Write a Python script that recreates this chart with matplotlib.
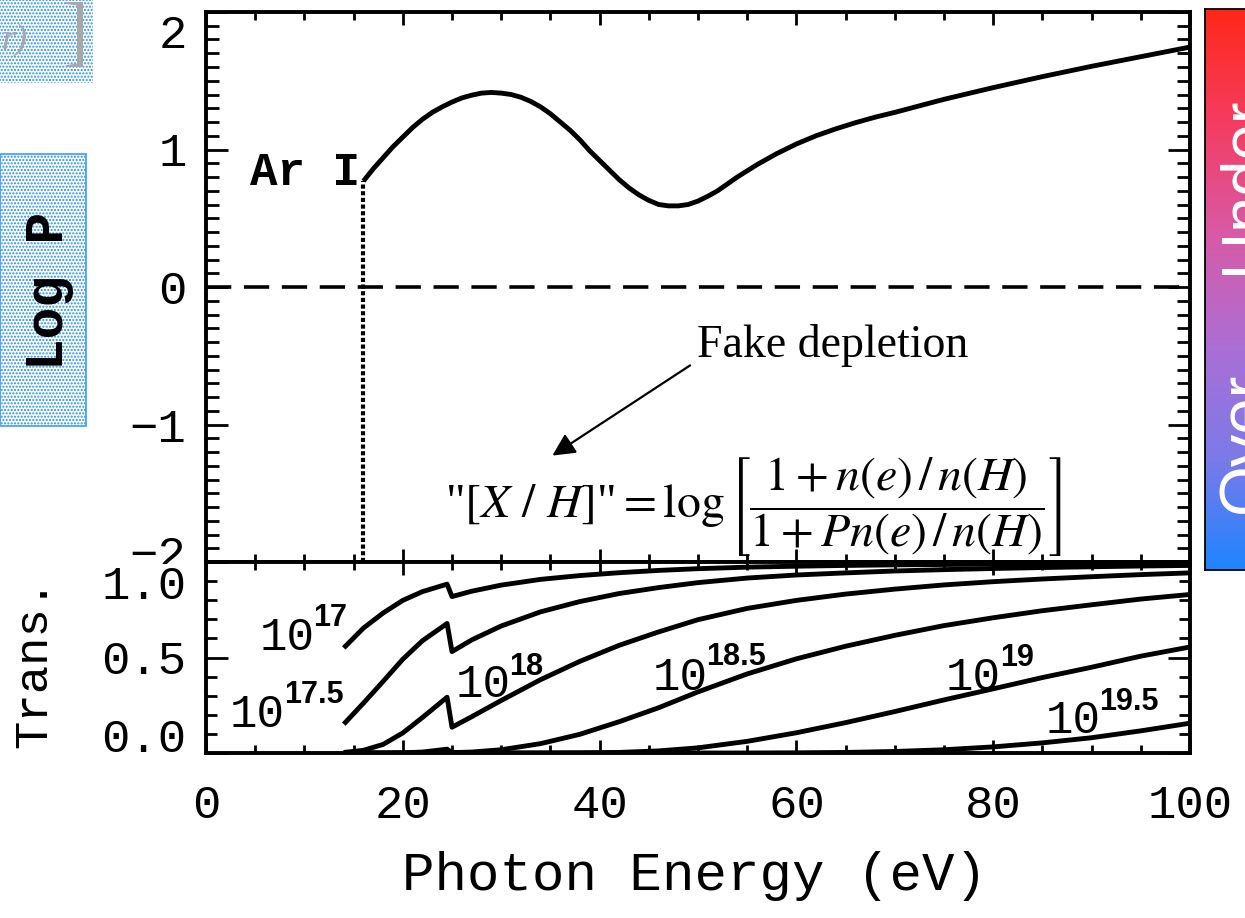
import numpy as np
import matplotlib
matplotlib.use("Agg")
import matplotlib.pyplot as plt
from matplotlib.ticker import MultipleLocator, FixedLocator, FormatStrFormatter
from matplotlib.transforms import ScaledTranslation, Bbox
from matplotlib.patches import Rectangle
from matplotlib.colors import LinearSegmentedColormap

# ---------------- data ----------------
# Top panel: Log P for Ar I versus photon energy (eV)
logp_energy = [16.0, 17, 18, 19, 20, 21, 22, 23, 24, 25, 26, 27, 28, 29, 30, 31, 32, 33, 34,
               35, 36, 37, 38, 39, 40, 41, 42, 43, 44, 45, 46, 47, 48, 49, 50, 51, 52, 54,
               56, 58, 60, 62, 64, 66, 68, 70, 75, 80, 85, 90, 95, 100]
logp_value = [0.77, 0.86, 0.94, 1.02, 1.09, 1.16, 1.22, 1.27, 1.31, 1.345, 1.375, 1.395, 1.41,
              1.415, 1.41, 1.40, 1.38, 1.35, 1.31, 1.26, 1.20, 1.14, 1.07, 0.99, 0.92, 0.85,
              0.78, 0.72, 0.67, 0.63, 0.60, 0.59, 0.59, 0.60, 0.625, 0.66, 0.70, 0.80, 0.89,
              0.97, 1.04, 1.10, 1.15, 1.195, 1.235, 1.27, 1.365, 1.45, 1.53, 1.605, 1.675,
              1.745]
ar_edge = 16.0
ar_edge_logp = 0.77

# Bottom panel: transmission for several H I column densities
trans_energy = [14, 16, 18, 20, 22, 24.5, 25.0, 27, 30, 34, 38, 42, 46, 50, 55, 60, 65, 70,
                75, 80, 85, 90, 95, 100]
trans_17 = [0.550, 0.654, 0.733, 0.799, 0.845, 0.884, 0.819, 0.847, 0.879, 0.909, 0.929,
            0.944, 0.956, 0.965, 0.973, 0.978, 0.982, 0.985, 0.987, 0.989, 0.991, 0.992,
            0.993, 0.994]
trans_17_5 = [0.151, 0.261, 0.375, 0.491, 0.588, 0.678, 0.531, 0.592, 0.665, 0.739, 0.793,
              0.835, 0.866, 0.892, 0.916, 0.932, 0.943, 0.953, 0.960, 0.966, 0.971, 0.975,
              0.979, 0.982]
trans_18 = [0.003, 0.014, 0.045, 0.105, 0.186, 0.292, 0.135, 0.190, 0.275, 0.384, 0.480,
            0.564, 0.634, 0.698, 0.757, 0.799, 0.832, 0.858, 0.880, 0.897, 0.911, 0.923,
            0.934, 0.943]
trans_18_5 = [0.0, 0.0, 0.0, 0.001, 0.005, 0.020, 0.002, 0.005, 0.017, 0.049, 0.098, 0.164,
              0.237, 0.320, 0.414, 0.493, 0.559, 0.616, 0.667, 0.708, 0.745, 0.776, 0.806,
              0.830]
trans_19 = [0.0, 0.0, 0.0, 0.0, 0.0, 0.0, 0.0, 0.0, 0.0, 0.0, 0.001, 0.003, 0.011, 0.027,
            0.061, 0.106, 0.159, 0.217, 0.278, 0.336, 0.395, 0.449, 0.507, 0.555]
trans_19_5 = [0.0, 0.0, 0.0, 0.0, 0.0, 0.0, 0.0, 0.0, 0.0, 0.0, 0.0, 0.0, 0.0, 0.0, 0.0,
              0.001, 0.003, 0.008, 0.017, 0.032, 0.053, 0.080, 0.116, 0.156]
trans_series = [trans_17, trans_17_5, trans_18, trans_18_5, trans_19, trans_19_5]
col_base = ["10"] * 6
col_exp = ["17", "17.5", "18", "18.5", "19", "19.5"]
# label anchor positions (data coords): base "10" and exponent
col_base_pos = [(5.5, 0.54), (2.4, 0.137), (25.4, 0.295), (45.4, 0.332), (75.2, 0.332), (85.3, 0.105)]
col_exp_pos = [(10.9, 0.665), (7.9, 0.263), (30.8, 0.41), (50.8, 0.463), (80.7, 0.453), (90.8, 0.226)]

x_ticks = [0, 20, 40, 60, 80, 100]
top_yticks = [-2, -1, 0, 1, 2]
bot_yticks = [0.0, 0.5, 1.0]

# ---------------- figure ----------------
W, H = 1245, 918
fig = plt.figure(figsize=(W / 100, H / 100), dpi=100)
fig.patch.set_facecolor("white")

def fx(px):
    return px / W

def fy(py):
    return 1 - py / H

mono = "Liberation Mono"
LW_SPINE = 2.8
LW_CURVE = 3.5
TICKSIZE = 34

ax1 = fig.add_axes([fx(206), fy(562), fx(1190) - fx(206), fy(12) - fy(562)])
ax2 = fig.add_axes([fx(206), fy(753), fx(1190) - fx(206), fy(562) - fy(753)])

for ax in (ax1, ax2):
    ax.set_xlim(0, 100)
    for s in ax.spines.values():
        s.set_linewidth(LW_SPINE)
    ax.xaxis.set_major_locator(FixedLocator(x_ticks))
    ax.xaxis.set_minor_locator(MultipleLocator(5))
    ax.tick_params(which="both", direction="in", top=True, right=True, width=2.0,
                   labelsize=TICKSIZE, pad=14)
    ax.tick_params(axis="x", which="major", length=9.5)
    ax.tick_params(axis="x", which="minor", length=6)

# ----- top panel -----
ax1.set_ylim(-2, 2)
ax1.yaxis.set_major_locator(FixedLocator(top_yticks))
ax1.yaxis.set_minor_locator(MultipleLocator(0.1))
ax1.tick_params(axis="y", which="major", length=16)
ax1.tick_params(axis="y", which="minor", length=9.5)
ax1.tick_params(axis="x", labelbottom=False)

ax1.plot(logp_energy, logp_value, color="black", lw=LW_CURVE, solid_capstyle="butt",
         solid_joinstyle="round")
ax1.axhline(0, color="black", lw=2.6, linestyle=(0, (7, 3.5)))
ax1.plot([ar_edge, ar_edge], [-2, ar_edge_logp], color="black", lw=3.0,
         linestyle=(0, (1.0, 0.6)))

ax1.text(4.47, 0.745, "Ar I", fontfamily=mono, fontweight="bold", fontsize=33,
         ha="left", va="baseline")
ax1.text(49.9, -0.51, "Fake depletion", fontfamily="Liberation Serif", fontsize=33,
         ha="left", va="baseline")
ax1.annotate("", xy=(35.2, -1.226), xytext=(49.2, -0.57),
             arrowprops=dict(arrowstyle="-|>", lw=1.6, color="black", mutation_scale=34,
                             shrinkA=0, shrinkB=0))
ax1.text(55.6, -1.60,
         r'"$[X\ /\ H]$"$=\log\left[\dfrac{1+n(e)\,/\,n(H)}{1+Pn(e)\,/\,n(H)}\right]$',
         fontfamily="Liberation Serif", math_fontfamily="stix", fontsize=34.5,
         ha="center", va="center")

fig.canvas.draw()
clip_top = Bbox.from_extents(0, fig.bbox.height * fy(564), fig.bbox.width, fig.bbox.height)
for lab in ax1.get_yticklabels():
    lab.set_fontfamily(mono)
    t = lab.get_text().replace("\u2212", "-")
    if t == "2":
        lab.set_transform(lab.get_transform() + ScaledTranslation(0, -19 / 100, fig.dpi_scale_trans))
    elif t == "-2":
        lab.set_transform(lab.get_transform() + ScaledTranslation(0, 10 / 100, fig.dpi_scale_trans))
        lab.set_clip_box(clip_top)
        lab.set_clip_on(True)

# ----- bottom panel -----
ax2.set_ylim(0, 1)
ax2.yaxis.set_major_locator(FixedLocator(bot_yticks))
ax2.yaxis.set_major_formatter(FormatStrFormatter("%.1f"))
ax2.yaxis.set_minor_locator(MultipleLocator(0.1))
ax2.tick_params(axis="y", which="major", length=16)
ax2.tick_params(axis="y", which="minor", length=8)
ax2.tick_params(axis="x", which="major", pad=22)

for series in trans_series:
    ax2.plot(trans_energy, series, color="black", lw=LW_CURVE, solid_joinstyle="round",
             solid_capstyle="butt", clip_on=True)

for b, e, pb, pe in zip(col_base, col_exp, col_base_pos, col_exp_pos):
    ax2.text(pb[0], pb[1], b, fontfamily=mono, fontsize=33, ha="left", va="baseline")
    ax2.text(pe[0], pe[1], e, fontfamily="Liberation Sans", fontweight="bold", fontsize=22,
             ha="left", va="baseline")

ax2.set_ylabel("Trans.", fontfamily=mono, fontsize=34, va="center")
ax2.yaxis.set_label_coords((34 - 206) / 984, (753 - 663) / 190)

fig.canvas.draw()
for lab in ax2.get_yticklabels():
    lab.set_fontfamily(mono)
    t = lab.get_text()
    if t == "1.0":
        lab.set_transform(lab.get_transform() + ScaledTranslation(0, -20 / 100, fig.dpi_scale_trans))
    elif t == "0.0":
        lab.set_transform(lab.get_transform() + ScaledTranslation(0, 18 / 100, fig.dpi_scale_trans))
for lab in ax2.get_xticklabels():
    lab.set_fontfamily(mono)

fig.text(fx(695), fy(890), "Photon Energy (eV)", fontfamily=mono, fontsize=39,
         ha="center", va="baseline")

# ----- right colour bar (cropped) -----
cmap = LinearSegmentedColormap.from_list(
    "ou", ["#ff2818", "#f53c60", "#d85aa6", "#ac6ed4", "#7c7ae8", "#1e84ff"])
cax = fig.add_axes([fx(1205), fy(570), fx(1265) - fx(1205), fy(9) - fy(570)])
cax.imshow(np.linspace(0, 1, 256).reshape(-1, 1), aspect="auto", cmap=cmap,
           extent=[0, 1, 0, 1], origin="upper")
cax.set_xticks([])
cax.set_yticks([])
for s in cax.spines.values():
    s.set_linewidth(1.3)
fig.text(fx(1216), fy(185), "Under", color="white", fontfamily="Liberation Sans",
         fontsize=47, rotation=90, ha="left", va="center")
fig.text(fx(1216), fy(442), "Over", color="white", fontfamily="Liberation Sans",
         fontsize=47, rotation=90, ha="left", va="center")

# ----- left decorative fragments -----
boxA = Rectangle((0, fy(83)), fx(93), 1 - fy(83), transform=fig.transFigure,
                 facecolor="white", edgecolor="#1f8cff", hatch=".....", lw=0)
fig.patches.append(boxA)
fig.text(fx(2), fy(40), "r)", color="#a8a8a8", fontfamily="Liberation Serif",
         style="italic", fontsize=26, ha="left", va="center")
fig.text(fx(62), fy(38), "]", color="#a8a8a8", fontfamily="Liberation Serif",
         fontsize=56, ha="left", va="center")

boxB = Rectangle((0, fy(426)), fx(86), fy(154) - fy(426), transform=fig.transFigure,
                 facecolor="white", edgecolor="#1f8cff", hatch=".....", lw=0)
fig.patches.append(boxB)
boxB_edge = Rectangle((0, fy(426)), fx(86), fy(154) - fy(426), transform=fig.transFigure,
                      facecolor="none", edgecolor="#3c9cff", lw=1.2)
fig.patches.append(boxB_edge)
fig.text(fx(49), fy(291), "Log P", fontfamily=mono, fontweight="bold", fontsize=38,
         rotation=90, ha="center", va="center", color="black")

fig.savefig("out.png", dpi=100)
